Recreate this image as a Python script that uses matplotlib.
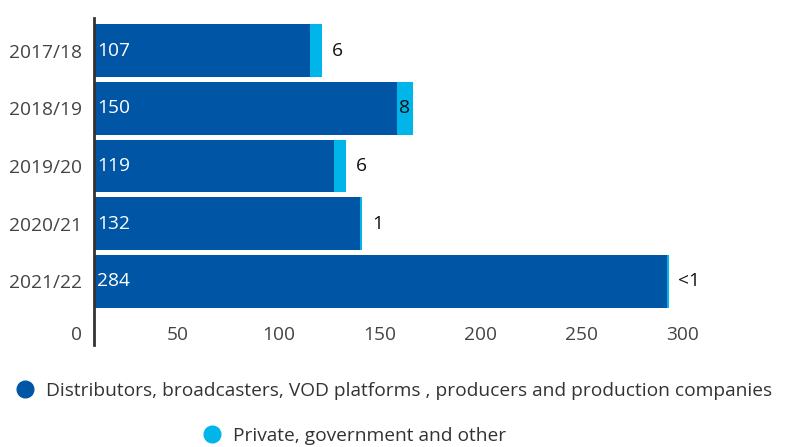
import matplotlib.pyplot as plt
from matplotlib.transforms import ScaledTranslation
from matplotlib.lines import Line2D

plt.rcParams['font.family'] = ['Open Sans', 'DejaVu Sans']

years = ['2017/18', '2018/19', '2019/20', '2020/21', '2021/22']
industry = [107, 150, 119, 132, 284]
other = [6, 8, 6, 1, 0.8]
other_labels = ['6', '8', '6', '1', '<1']
industry_name = 'Distributors, broadcasters, VOD platforms , producers and production companies'
other_name = 'Private, government and other'

dark = '#0056a4'
light = '#00b5ea'
fs = 13.8

fig = plt.figure(figsize=(7.86, 4.47), dpi=100)
ax = fig.add_axes([94 / 786, 1 - 345 / 447, (770 - 94) / 786, (345 - 18) / 447])

pos = list(range(len(years)))
ax.barh(pos, industry, height=0.91, color=dark)
ax.barh(pos, other, left=industry, height=0.91, color=light)

for i in pos:
    ax.annotate(str(industry[i]), (0, i), xytext=(2.5, 0), textcoords='offset points',
                va='center', ha='left', color='white', fontsize=fs)
    end = industry[i] + other[i]
    if other[i] >= 8:
        ax.text(industry[i] + other[i] / 2, i, other_labels[i], va='center', ha='center',
                color='#111111', fontsize=fs)
    else:
        ax.annotate(other_labels[i], (end, i), xytext=(7, 0), textcoords='offset points',
                    va='center', ha='left', color='#111111', fontsize=fs)

ax.set_xlim(0, 335)
ax.set_ylim(5.1, -0.563)
ax.set_yticks(pos)
ax.set_yticklabels(years)
ax.set_xticks([0, 50, 100, 150, 200, 250, 300])
ax.tick_params(axis='y', length=0, pad=9, labelsize=fs, labelcolor='#444444')
ax.tick_params(axis='x', length=0, pad=-14, labelsize=fs, labelcolor='#444444')
shift = ScaledTranslation(-0.17, 0, fig.dpi_scale_trans)
for lab in ax.get_xticklabels():
    lab.set_transform(lab.get_transform() + shift)

for s in ['top', 'right', 'bottom']:
    ax.spines[s].set_visible(False)
ax.spines['left'].set_color('#333333')
ax.spines['left'].set_linewidth(2)

h1 = Line2D([], [], marker='o', linestyle='', markersize=12, color=dark)
h2 = Line2D([], [], marker='o', linestyle='', markersize=12, color=light)
fig.legend([h1], [industry_name], loc='center', bbox_to_anchor=(0.5, 1 - 391 / 447),
           frameon=False, fontsize=fs, handletextpad=0.5, handlelength=1.2, labelcolor='#333333')
fig.legend([h2], [other_name], loc='center', bbox_to_anchor=(0.45, 1 - 436 / 447),
           frameon=False, fontsize=fs, handletextpad=0.5, handlelength=1.2, labelcolor='#333333')

fig.savefig('out.png', dpi=100)
